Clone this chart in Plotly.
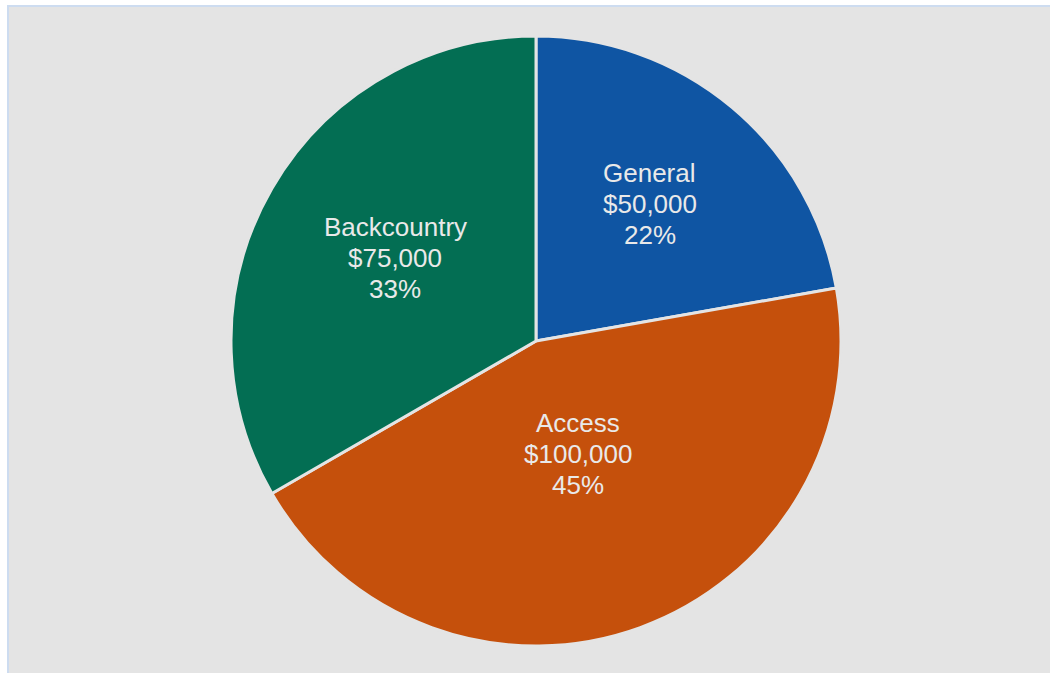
import math
import plotly.graph_objects as go

# Budget split by program area
categories = ["General", "Access", "Backcountry"]
amounts = [50000, 100000, 75000]
slice_colors = ["#0f55a3", "#c5500c", "#036e53"]
# how far out along each slice's bisector its label sits (fraction of radius)
label_radius = [0.58, 0.40, 0.533]


def whole_percents(values):
    """Round shares to whole percents that still add up to 100 (largest remainder)."""
    total = sum(values)
    raw = [v * 100 / total for v in values]
    floors = [math.floor(r) for r in raw]
    short = 100 - sum(floors)
    order = sorted(range(len(raw)), key=lambda i: raw[i] - floors[i], reverse=True)
    for i in order[:short]:
        floors[i] += 1
    return [f"{p}%" for p in floors]


pct_labels = whole_percents(amounts)

W, H = 1050, 673
CX, CY, R = 536, 341, 305  # pie centre and radius in pixels
LINE_GAP = 31
label_font = dict(family="Liberation Sans, Arial, sans-serif", size=26, color="#e9e9e9")

fig = go.Figure(
    go.Pie(
        labels=categories,
        values=amounts,
        text=pct_labels,
        textinfo="none",
        marker=dict(colors=slice_colors, line=dict(color="#e4e4e4", width=3)),
        sort=False,
        direction="clockwise",
        rotation=0,
        showlegend=False,
        hoverinfo="label+value+text",
        domain=dict(x=[(CX - R) / W, (CX + R) / W], y=[1 - (CY + R) / H, 1 - (CY - R) / H]),
    )
)

# slice labels: name, amount and share, stacked along each slice's bisector
total = sum(amounts)
start = 0.0
annotations = []
for name, amt, pct, rf in zip(categories, amounts, pct_labels, label_radius):
    frac = amt / total
    mid = 2 * math.pi * (start + frac / 2)  # clockwise from 12 o'clock
    start += frac
    px = CX + rf * R * math.sin(mid)
    py = CY - rf * R * math.cos(mid) - 1.5
    for k, line in enumerate([name, f"${amt:,.0f}", pct]):
        annotations.append(
            dict(
                x=px / W,
                y=1 - (py + (k - 1) * LINE_GAP) / H,
                xref="paper",
                yref="paper",
                text=line,
                showarrow=False,
                xanchor="center",
                yanchor="middle",
                font=label_font,
            )
        )

fig.update_layout(
    width=W,
    height=H,
    margin=dict(l=0, r=0, t=0, b=0),
    paper_bgcolor="white",
    annotations=annotations,
    shapes=[
        # grey panel
        dict(type="rect", xref="paper", yref="paper", x0=9 / W, x1=1, y0=0, y1=1 - 7 / H,
             fillcolor="#e4e4e4", line=dict(width=0), layer="below"),
        # light blue frame on the left and top edges
        dict(type="rect", xref="paper", yref="paper", x0=7 / W, x1=9 / W, y0=0, y1=1 - 5 / H,
             fillcolor="#cddcf0", line=dict(width=0), layer="below"),
        dict(type="rect", xref="paper", yref="paper", x0=7 / W, x1=1, y0=1 - 7 / H, y1=1 - 5 / H,
             fillcolor="#cddcf0", line=dict(width=0), layer="below"),
    ],
)

fig.write_html("out.html")
